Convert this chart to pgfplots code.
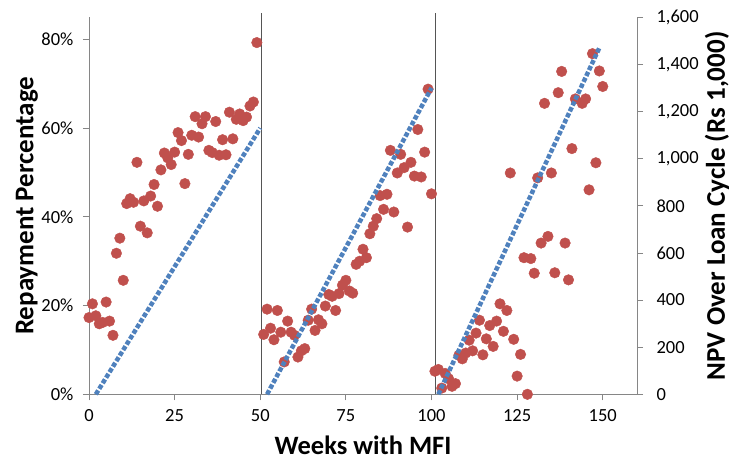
\documentclass[border=0pt]{standalone}
\usepackage{fontspec}
\setmainfont{Carlito}
\usepackage{pgfplots}
\usepackage{pgfplotstable}
\pgfplotsset{compat=1.18}
\definecolor{mfired}{HTML}{C0504D}
\definecolor{mfiblue}{HTML}{4F81BD}
\definecolor{axgray}{HTML}{868686}
\definecolor{divgray}{HTML}{555555}

% repayment percentage by week
\pgfplotstableread{
week rep
0 17.3
1 20.4
2 17.7
3 15.9
4 16.2
5 20.8
6 16.5
7 13.3
8 31.8
9 35.2
10 25.7
11 43.0
12 44.1
13 43.3
14 52.3
15 37.9
16 43.6
17 36.4
18 44.7
19 47.3
20 42.4
21 50.6
22 54.4
23 53.3
24 51.8
25 54.6
26 59.0
27 57.2
28 47.5
29 54.1
30 58.4
31 62.6
32 58.0
33 61.0
34 62.6
35 55.0
36 54.5
37 61.5
38 53.9
39 57.4
40 54.0
41 63.6
42 57.6
43 62.0
44 63.2
45 61.7
46 62.5
47 65.0
48 65.9
49 79.3
51 13.5
52 19.2
53 14.9
54 12.3
55 18.9
56 14.0
57 7.3
58 16.5
59 14.0
60 13.3
61 8.4
62 9.8
63 10.3
64 16.7
65 19.2
66 14.4
67 16.8
68 15.9
69 19.9
70 22.5
71 22.1
72 18.9
73 22.7
74 24.6
75 25.7
76 23.3
77 22.8
78 29.3
79 30.0
80 32.7
81 30.8
82 36.2
83 37.9
84 39.6
85 44.8
86 41.7
87 45.1
88 55.0
89 41.1
90 49.9
91 54.1
92 51.1
93 37.7
94 52.3
95 49.2
96 59.7
97 49.0
98 54.6
99 68.8
100 45.2
101 5.2
102 5.6
103 1.4
104 4.7
105 3.5
106 1.8
107 2.4
108 8.8
109 8.0
110 9.3
111 12.2
112 9.8
113 13.8
114 16.7
115 8.9
116 12.5
117 15.5
118 10.8
119 16.5
120 20.4
121 14.2
122 18.9
123 49.9
124 12.4
125 4.1
126 9.0
127 30.8
128 0
129 30.6
130 27.3
131 48.8
132 34.1
133 65.6
134 35.6
135 49.9
136 27.4
137 68.0
138 72.8
139 34.1
140 25.8
141 55.4
142 66.6
144 65.6
145 66.6
146 46.1
147 76.8
148 52.2
149 72.9
150 69.4
}\repdata

\pgfplotsset{
  mfibase/.style={
    scale only axis, width=548pt, height=377pt,
    xmin=0, xmax=160, ymin=0,
    axis line style={draw=axgray, line width=0.8pt},
    tick align=outside, major tick length=6pt,
    tick style={draw=axgray, line width=0.8pt},
    ticklabel style={font=\fontsize{18.5}{20}\selectfont},
    clip=false,
  },
}

\begin{document}
\begin{tikzpicture}
\begin{axis}[
  mfibase, name=ax,
  ymax=85,
  axis x line*=bottom, axis y line*=left,
  xtick={0,25,...,150}, ytick={0,20,...,80},
  xticklabels={0,25,50,75,100,125,150},
  yticklabels={0\%,20\%,40\%,60\%,80\%},
  xticklabel style={yshift=-6pt},
  yticklabel style={xshift=-6pt},
  xlabel={Weeks with MFI}, ylabel={Repayment Percentage},
  every axis x label/.style={at={(axis description cs:0.5,0)}, yshift=-51pt,
    anchor=center, inner sep=1pt, font=\bfseries\fontsize{26.5}{30}\selectfont},
  every axis y label/.style={at={(axis description cs:0,0.5)}, xshift=-62pt,
    rotate=90, anchor=center, font=\bfseries\fontsize{27}{30}\selectfont},
]
\addplot[draw=divgray, line width=0.8pt, forget plot] coordinates {(50.3,0) (50.3,86)};
\addplot[draw=divgray, line width=0.8pt, forget plot] coordinates {(101,0) (101,86)};
\addplot[only marks, mark=*, mark size=5.3pt,
  mark options={fill=mfired, draw=mfired}] table[x=week, y=rep] {\repdata};
\end{axis}
\begin{axis}[
  mfibase,
  ymax=1600,
  axis x line=none, axis y line*=right,
  ytick={0,200,...,1600},
  yticklabels={0,200,400,600,800,{1,000},{1,200},{1,400},{1,600}},
  yticklabel style={xshift=10pt},
  ylabel={NPV Over Loan Cycle (Rs 1,000)},
  every axis y label/.style={at={(axis description cs:1,0.5)}, xshift=80pt,
    rotate=90, anchor=center, font=\bfseries\fontsize{27}{30}\selectfont},
]
\addplot[draw=mfiblue, line width=4.5pt, dash pattern=on 4.5pt off 2pt] coordinates {(2,0) (50,1130)};
\addplot[draw=mfiblue, line width=4.5pt, dash pattern=on 4.5pt off 2pt] coordinates {(52,0) (100,1300)};
\addplot[draw=mfiblue, line width=4.5pt, dash pattern=on 4.5pt off 2pt] coordinates {(102,0) (149,1470)};
\end{axis}
\pgfresetboundingbox
\path[use as bounding box] ([xshift=-89pt,yshift=-65.7pt]ax.south west) rectangle ([xshift=97pt,yshift=17.3pt]ax.north east);
\end{tikzpicture}
\end{document}
